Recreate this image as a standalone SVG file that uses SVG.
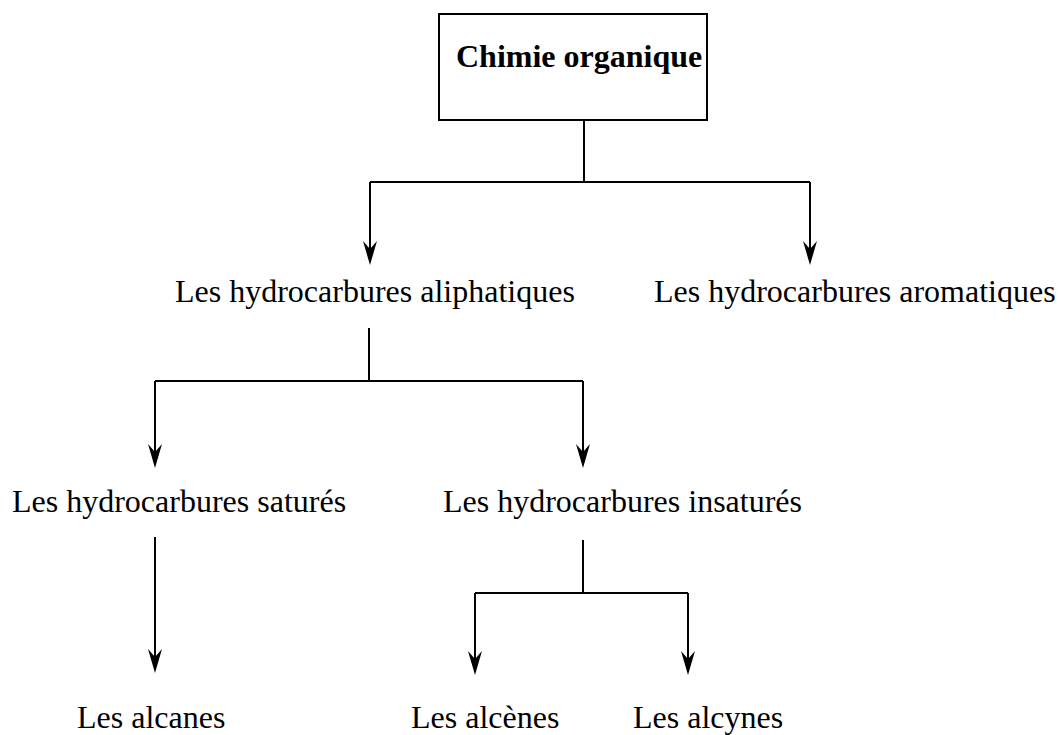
<svg xmlns="http://www.w3.org/2000/svg" width="1058" height="735" viewBox="0 0 1058 735">
<style>
.t{font-family:"Liberation Serif","Times New Roman",serif;font-size:32px;fill:#000}
.b{font-weight:bold}
.c{fill:none;stroke:#000;stroke-width:2}
</style>
<defs>
<marker id="ah" markerUnits="userSpaceOnUse" markerWidth="26" markerHeight="16" refX="19" refY="7.5" orient="auto" viewBox="0 0 26 15">
<path d="M0,0.5 L24,7.5 L0,14.5 L8,7.5 Z" fill="#000"/>
</marker>
</defs>
<rect width="1058" height="735" fill="#fff"/>
<g id="connectors">
<path class="c" d="M584,121 V182 M370,182 H810"/>
<path class="c" d="M370,182 V260" marker-end="url(#ah)"/>
<path class="c" d="M810,182 V260" marker-end="url(#ah)"/>
<path class="c" d="M369,328 V381 M155,381 H583"/>
<path class="c" d="M155,381 V463" marker-end="url(#ah)"/>
<path class="c" d="M583,381 V463" marker-end="url(#ah)"/>
<path class="c" d="M155,537 V668" marker-end="url(#ah)"/>
<path class="c" d="M583,540 V593 M475,593 H688"/>
<path class="c" d="M475,593 V670" marker-end="url(#ah)"/>
<path class="c" d="M688,593 V670" marker-end="url(#ah)"/>
</g>
<g id="chimie">
<rect x="439" y="14" width="268" height="106" fill="#fff" stroke="#000" stroke-width="2"/>
<text class="t b" x="456" y="67">Chimie organique</text>
</g>
<g id="aliphatiques"><text class="t" x="175" y="302">Les hydrocarbures aliphatiques</text></g>
<g id="aromatiques"><text class="t" x="654" y="302">Les hydrocarbures aromatiques</text></g>
<g id="satures"><text class="t" x="12" y="512">Les hydrocarbures saturés</text></g>
<g id="insatures"><text class="t" x="443" y="512">Les hydrocarbures insaturés</text></g>
<g id="alcanes"><text class="t" x="77" y="728">Les alcanes</text></g>
<g id="alcenes"><text class="t" x="411" y="728">Les alcènes</text></g>
<g id="alcynes"><text class="t" x="633" y="728">Les alcynes</text></g>
</svg>
